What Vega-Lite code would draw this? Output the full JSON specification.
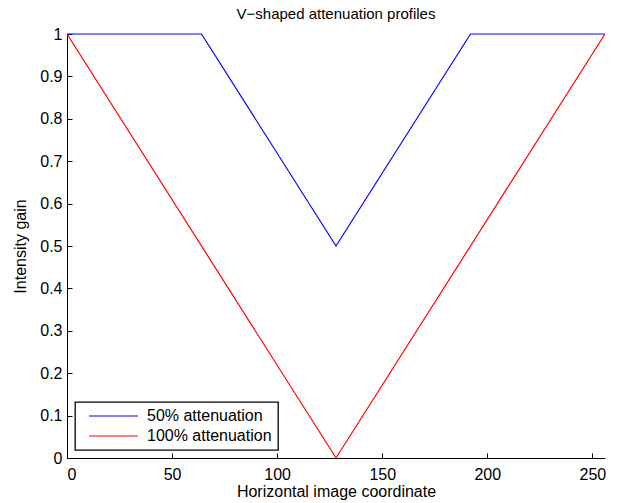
{
  "$schema": "https://vega.github.io/schema/vega-lite/v6.json",
  "autosize": "none",
  "width": 538,
  "height": 424,
  "padding": {"left": 67, "top": 34, "right": 17, "bottom": 45},
  "background": "white",
  "title": {"text": "V\u2212shaped attenuation profiles", "font": "Liberation Sans", "fontSize": 15, "fontWeight": "normal", "color": "black", "offset": 4},
  "config": {
    "view": {"stroke": null},
    "axis": {"labelFont": "Liberation Sans", "titleFont": "Liberation Sans", "labelFontSize": 16, "titleFontSize": 16, "titleFontWeight": "normal", "labelColor": "black", "titleColor": "black", "domainColor": "black", "tickColor": "black", "grid": false, "tickSize": -5},
    "legend": {"strokeWidth": 1.3}
  },
  "data": {"values": [
    {"series": "50% attenuation", "x": 0, "y": 1},
    {"series": "50% attenuation", "x": 64, "y": 1},
    {"series": "50% attenuation", "x": 128, "y": 0.5},
    {"series": "50% attenuation", "x": 192, "y": 1},
    {"series": "50% attenuation", "x": 256, "y": 1},
    {"series": "100% attenuation", "x": 0, "y": 1},
    {"series": "100% attenuation", "x": 128, "y": 0},
    {"series": "100% attenuation", "x": 256, "y": 1}
  ]},
  "mark": {"type": "line", "strokeWidth": 1.2},
  "encoding": {
    "x": {"field": "x", "type": "quantitative", "scale": {"domain": [0, 256], "nice": false, "zero": false}, "axis": {"values": [0, 50, 100, 150, 200, 250], "title": "Horizontal image coordinate", "labelPadding": 13, "titlePadding": 1}},
    "y": {"field": "y", "type": "quantitative", "scale": {"domain": [0, 1], "nice": false}, "axis": {"values": [0, 0.1, 0.2, 0.3, 0.4, 0.5, 0.6, 0.7, 0.8, 0.9, 1], "format": "~g", "title": "Intensity gain", "labelPadding": 10, "titlePadding": 11}},
    "color": {"field": "series", "type": "nominal", "sort": ["50% attenuation", "100% attenuation"], "scale": {"domain": ["50% attenuation", "100% attenuation"], "range": ["#0000ff", "#ff0000"]},
      "legend": {"title": null, "orient": "bottom-left", "offset": 8, "symbolType": "M0,0H10", "symbolSize": 96, "symbolStrokeWidth": 1.2, "labelFont": "Liberation Sans", "labelFontSize": 16, "labelColor": "black", "strokeColor": "black", "fillColor": "white", "padding": 6, "rowPadding": 4, "labelOffset": 50}}
  }
}
